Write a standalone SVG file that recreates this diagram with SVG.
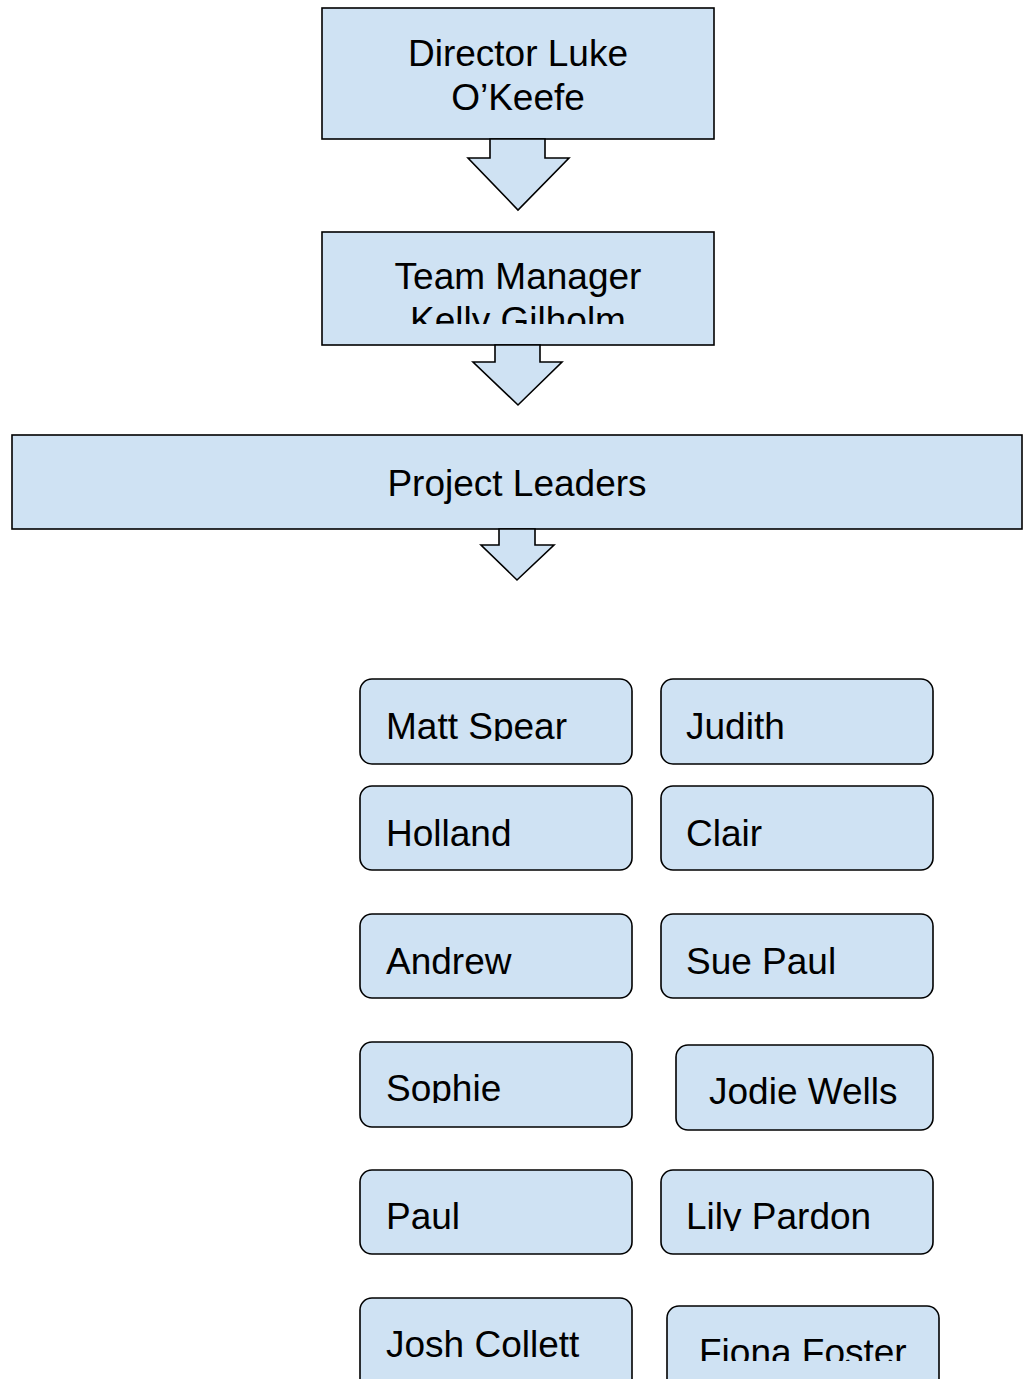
<svg xmlns="http://www.w3.org/2000/svg" width="1031" height="1379" viewBox="0 0 1031 1379">
<style>
.box{fill:#cfe2f3;stroke:#000;stroke-width:1.6}
.arr{fill:#cfe2f3;stroke:#000;stroke-width:1.6;stroke-linejoin:miter}
.t{font-family:"Liberation Sans",Arial,sans-serif;font-size:37px;fill:#000}
.s{font-family:"Liberation Sans",Arial,sans-serif;font-size:37px;fill:#000}
.c{text-anchor:middle}
</style>
<defs>
<clipPath id="cKelly"><rect x="0" y="0" width="1031" height="324"/></clipPath>
<clipPath id="cMatt"><rect x="0" y="0" width="1031" height="741"/></clipPath>
<clipPath id="cSophie"><rect x="0" y="0" width="1031" height="1103"/></clipPath>
<clipPath id="cLily"><rect x="0" y="0" width="1031" height="1231"/></clipPath>
<clipPath id="cFiona"><rect x="0" y="0" width="1031" height="1361"/></clipPath>
</defs>
<rect width="1031" height="1379" fill="#fff"/>

<g id="director">
<rect class="box" x="322" y="8" width="392" height="131"/>
<text class="t c" x="518" y="66">Director Luke</text>
<text class="t c" x="518" y="110">O’Keefe</text>
</g>

<g id="team-manager">
<rect class="box" x="322" y="232" width="392" height="113"/>
<text class="t c" x="518" y="289">Team Manager</text>
<text class="t c" x="518" y="333" clip-path="url(#cKelly)">Kelly Gilholm</text>
</g>

<g id="project-leaders">
<rect class="box" x="12" y="435" width="1010" height="94"/>
<text class="t c" x="517" y="496">Project Leaders</text>
</g>

<g id="connectors">
<polygon class="arr" points="490,139 490,158 468,158 518,210 569,158 545,158 545,139"/>
<polygon class="arr" points="495,345 495,362 473,362 518,405 562,362 540,362 540,345"/>
<polygon class="arr" points="499,529 499,545 481,545 517,580 554,545 535,545 535,529"/>
</g>

<g id="matt-spear">
<rect class="box" x="360" y="679" width="272" height="85" rx="12"/>
<text class="s" x="386" y="739" clip-path="url(#cMatt)">Matt Spear</text>
</g>
<g id="judith">
<rect class="box" x="661" y="679" width="272" height="85" rx="12"/>
<text class="s" x="686" y="739">Judith</text>
</g>
<g id="holland">
<rect class="box" x="360" y="786" width="272" height="84" rx="12"/>
<text class="s" x="386" y="846">Holland</text>
</g>
<g id="clair">
<rect class="box" x="661" y="786" width="272" height="84" rx="12"/>
<text class="s" x="686" y="846">Clair</text>
</g>
<g id="andrew">
<rect class="box" x="360" y="914" width="272" height="84" rx="12"/>
<text class="s" x="386" y="974">Andrew</text>
</g>
<g id="sue-paul">
<rect class="box" x="661" y="914" width="272" height="84" rx="12"/>
<text class="s" x="686" y="974">Sue Paul</text>
</g>
<g id="sophie">
<rect class="box" x="360" y="1042" width="272" height="85" rx="12"/>
<text class="s" x="386" y="1101" clip-path="url(#cSophie)">Sophie</text>
</g>
<g id="jodie-wells">
<rect class="box" x="676" y="1045" width="257" height="85" rx="12"/>
<text class="s" x="709" y="1104">Jodie Wells</text>
</g>
<g id="paul">
<rect class="box" x="360" y="1170" width="272" height="84" rx="12"/>
<text class="s" x="386" y="1229">Paul</text>
</g>
<g id="lily-pardon">
<rect class="box" x="661" y="1170" width="272" height="84" rx="12"/>
<text class="s" x="686" y="1229" clip-path="url(#cLily)">Lily Pardon</text>
</g>
<g id="josh-collett">
<rect class="box" x="360" y="1298" width="272" height="110" rx="12"/>
<text class="s" x="386" y="1357">Josh Collett</text>
</g>
<g id="fiona-foster">
<rect class="box" x="667" y="1306" width="272" height="110" rx="12"/>
<text class="s" x="699" y="1365" clip-path="url(#cFiona)">Fiona Foster</text>
</g>
</svg>
